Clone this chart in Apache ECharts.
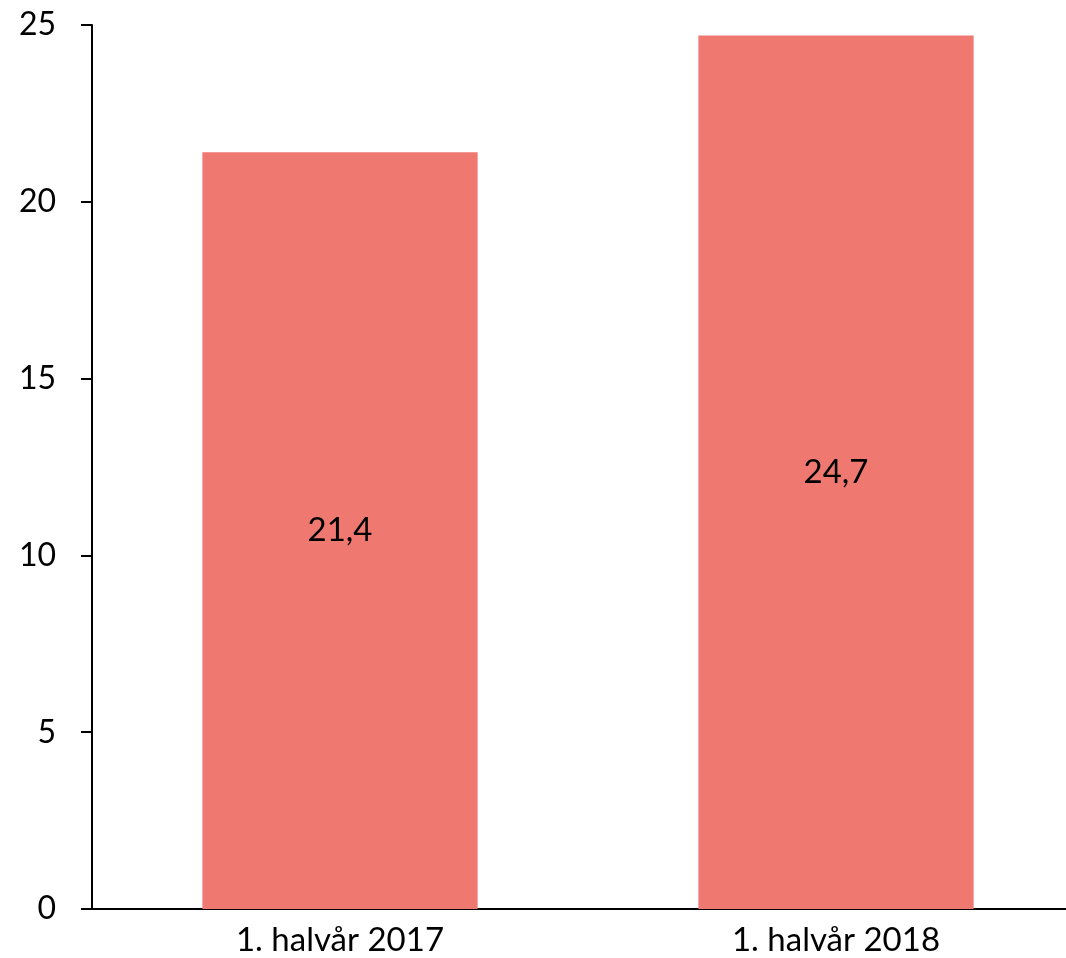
<!DOCTYPE html>
<html>
<head>
<meta charset="utf-8">
<script src="https://cdn.jsdelivr.net/npm/echarts@6/dist/echarts.min.js"></script>
<style>
html,body{margin:0;padding:0;background:#fff;}
#chart{width:1066px;height:958px;}
</style>
</head>
<body>
<div id="chart"></div>
<script>
const categories = ['1. halvår 2017', '1. halvår 2018'];
const values = [21.4, 24.7];
const yTicks = [0, 5, 10, 15, 20, 25];

const FONT = 'Lato';
const chart = echarts.init(document.getElementById('chart'), null, {renderer: 'canvas'});
chart.setOption({
  animation: false,
  backgroundColor: '#ffffff',
  grid: {left: 92, right: -18, top: 25, bottom: 49, containLabel: false, outerBoundsMode: 'none'},
  xAxis: {
    type: 'category',
    data: categories,
    axisLine: {show: true, lineStyle: {color: '#000', width: 2}},
    axisTick: {show: false},
    axisLabel: {color: '#000', fontFamily: FONT, fontSize: 33, margin: 15}
  },
  yAxis: {
    type: 'value',
    min: yTicks[0],
    max: yTicks[yTicks.length - 1],
    interval: 5,
    splitLine: {show: false},
    axisLine: {show: true, lineStyle: {color: '#000', width: 2}},
    axisTick: {show: true, length: 11, lineStyle: {color: '#000', width: 2}},
    axisLabel: {color: '#000', fontFamily: FONT, fontSize: 32, margin: 36}
  },
  series: [{
    type: 'bar',
    data: values,
    barWidth: '55.5%',
    itemStyle: {color: '#EF7971'},
    label: {
      show: true,
      position: 'inside',
      color: '#000',
      fontFamily: FONT,
      fontSize: 33,
      formatter: p => String(p.value).replace('.', ',')
    }
  }]
});
</script>
</body>
</html>
